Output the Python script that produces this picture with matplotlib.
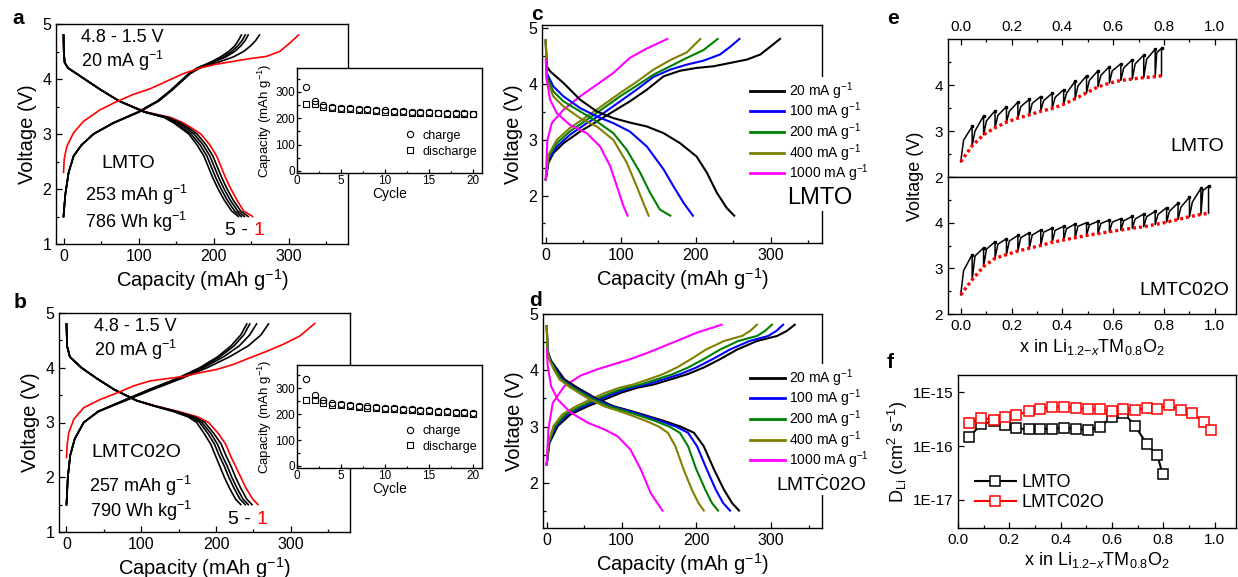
import matplotlib
matplotlib.use('Agg')
import matplotlib.pyplot as plt
from matplotlib.ticker import MultipleLocator, FixedLocator, NullLocator, FuncFormatter
from matplotlib.lines import Line2D
import numpy as np

plt.rcParams['font.family'] = ['Liberation Sans', 'DejaVu Sans']
plt.rcParams['mathtext.fontset'] = 'custom'
plt.rcParams['mathtext.rm'] = 'Liberation Sans'
plt.rcParams['mathtext.it'] = 'Liberation Sans:italic'
plt.rcParams['mathtext.bf'] = 'Liberation Sans:bold'
plt.rcParams['axes.linewidth'] = 1.0

# ---------------- Panel a (LMTO, cycles 1-5) ----------------
a_c1_chg_cap = [0, 1, 4.4, 13.3, 26.6, 48.8, 71, 93, 115, 137.5, 160, 182, 204, 226, 248, 270, 288, 302, 313]
a_c1_chg_V = [2.30, 2.55, 2.77, 3.02, 3.23, 3.44, 3.59, 3.72, 3.82, 3.96, 4.10, 4.20, 4.27, 4.32, 4.37, 4.41, 4.50, 4.66, 4.80]
a_chg_V = [1.5, 1.9, 2.3, 2.6, 2.8, 3.0, 3.2, 3.4, 3.6, 3.8, 4.0, 4.1, 4.2, 4.3, 4.4, 4.5, 4.6, 4.7, 4.8]
a_chg_cap = {
    2: [0, 2.4, 6.8, 13.5, 24, 40, 67, 101, 127, 145, 161, 169, 182, 205, 226, 240, 249, 256, 261],
    3: [0, 2.4, 6.8, 13.5, 24, 40, 66, 100, 126, 144, 160, 168, 180, 199, 216, 228, 236, 242, 246],
    4: [0, 2.4, 6.8, 13.5, 24, 40, 66, 100, 126, 144, 160, 168, 179, 197, 213, 224, 232, 238, 242],
    5: [0, 2.4, 6.8, 13.5, 24, 40, 66, 99, 125, 143, 159, 167, 178, 195, 209, 220, 228, 233, 237],
}
a_dis_V = [4.8, 4.5, 4.3, 4.2, 4.1, 4.0, 3.8, 3.6, 3.4, 3.3, 3.2, 3.1, 3.0, 2.8, 2.6, 2.4, 2.2, 2.0, 1.8, 1.6, 1.5]
a_dis_cap = {
    1: [0, 0.4, 1.5, 6, 17, 28, 50, 74, 110, 143, 160, 172, 183, 195, 204, 210, 216, 223, 231, 240, 252],
    2: [0, 0.4, 1.5, 6, 17, 28, 50, 74, 109, 140, 156, 168, 178, 190, 199, 205, 211, 218, 226, 236, 246],
    3: [0, 0.4, 1.5, 6, 17, 28, 50, 74, 108, 138, 153, 164, 174, 186, 195, 201, 207, 214, 222, 232, 241],
    4: [0, 0.4, 1.5, 6, 17, 28, 50, 74, 108, 136, 150, 160, 170, 182, 191, 197, 203, 210, 218, 228, 237],
    5: [0, 0.4, 1.5, 6, 17, 28, 50, 74, 107, 134, 147, 157, 167, 178, 187, 193, 199, 206, 214, 224, 233],
}
cycles = list(range(1, 21))
a_ins_chg = [317, 266, 250, 244, 240, 237, 235, 233, 231, 229, 227, 226, 225, 224, 222, 221, 220, 219, 218, 217]
a_ins_dis = [253, 252, 243, 239, 236, 233, 231, 229, 227, 225, 224, 223, 221, 220, 219, 218, 217, 216, 215, 214]

# ---------------- Panel b (LMTC02O, cycles 1-5) ----------------
b_c1_chg_cap = [0, 1, 3, 9.8, 23, 45, 67.6, 90, 112, 134, 156, 178.7, 201, 223, 245, 267.6, 290, 312, 325, 332]
b_c1_chg_V = [2.36, 2.6, 2.81, 3.06, 3.27, 3.42, 3.54, 3.67, 3.76, 3.80, 3.84, 3.91, 3.97, 4.06, 4.18, 4.30, 4.43, 4.58, 4.73, 4.81]
b_chg_V = [1.5, 2.0, 2.4, 2.7, 3.0, 3.2, 3.4, 3.6, 3.8, 4.0, 4.2, 4.4, 4.6, 4.8]
b_chg_cap = {
    2: [0, 1.8, 5, 11, 23, 43, 79, 115, 153, 188, 218, 243, 260, 270],
    3: [0, 1.8, 5, 11, 23, 42, 77, 112, 150, 183, 210, 231, 245, 254],
    4: [0, 1.8, 5, 11, 23, 42, 76, 111, 148, 180, 205, 224, 237, 245],
    5: [0, 1.8, 5, 11, 23, 42, 76, 110, 147, 178, 202, 220, 233, 241],
}
b_dis_V = [4.8, 4.4, 4.2, 4.0, 3.8, 3.6, 3.4, 3.3, 3.2, 3.1, 3.0, 2.8, 2.6, 2.4, 2.2, 2.0, 1.8, 1.6, 1.5]
b_dis_cap = {
    1: [0, 0.7, 4.5, 20, 41, 64, 94, 120, 150, 176, 190, 203, 213, 219, 226, 233, 240, 249, 256],
    2: [0, 0.7, 4.5, 20, 41, 64, 94, 119, 148, 172, 185, 197, 207, 213, 220, 226, 233, 241, 248],
    3: [0, 0.7, 4.5, 20, 41, 64, 94, 118, 146, 169, 181, 193, 202, 208, 215, 221, 228, 236, 243],
    4: [0, 0.7, 4.5, 20, 41, 64, 94, 118, 145, 166, 178, 189, 198, 204, 211, 217, 224, 232, 239],
    5: [0, 0.7, 4.5, 20, 41, 64, 93, 117, 143, 163, 174, 184, 193, 199, 205, 211, 218, 226, 233],
}
b_ins_chg = [334, 276, 253, 245, 240, 236, 233, 230, 228, 225, 223, 221, 219, 217, 215, 213, 211, 209, 208, 206]
b_ins_dis = [256, 253, 243, 237, 234, 230, 228, 225, 223, 221, 219, 217, 215, 213, 211, 209, 207, 205, 204, 202]

# ---------------- Panel c (LMTO rate) ----------------
rates = ['20 mA g$^{-1}$', '100 mA g$^{-1}$', '200 mA g$^{-1}$', '400 mA g$^{-1}$', '1000 mA g$^{-1}$']
rate_colors = ['#000000', '#0000FF', '#008000', '#808000', '#FF00FF']
c_chg = [
    ([0, 3.6, 10, 23.6, 45.8, 68, 90, 112, 134.7, 157, 179, 201, 223.6, 245.8, 268, 285.8, 299, 312],
     [2.29, 2.59, 2.76, 2.94, 3.15, 3.33, 3.51, 3.69, 3.90, 4.14, 4.24, 4.29, 4.32, 4.38, 4.44, 4.53, 4.67, 4.81]),
    ([0, 3.6, 14.7, 32, 54.7, 77, 99, 121, 143.5, 165.8, 188, 210, 232, 245.8, 258],
     [2.29, 2.64, 2.88, 3.09, 3.30, 3.48, 3.69, 3.90, 4.13, 4.26, 4.35, 4.42, 4.53, 4.67, 4.81]),
    ([0, 3.6, 14.7, 32, 54.7, 77, 99, 121, 143.5, 165.8, 188, 210, 229],
     [2.29, 2.70, 2.94, 3.15, 3.36, 3.57, 3.78, 3.97, 4.17, 4.32, 4.47, 4.61, 4.81]),
    ([0, 3.6, 14.7, 32, 54.7, 77, 99, 121, 143.5, 165.8, 188, 206],
     [2.29, 2.73, 3.0, 3.21, 3.42, 3.63, 3.84, 4.04, 4.26, 4.43, 4.57, 4.81]),
    ([0, 2.2, 8, 23.6, 45.8, 68, 90, 112, 134.7, 162],
     [2.29, 3.0, 3.30, 3.54, 3.78, 3.99, 4.20, 4.47, 4.64, 4.81]),
]
c_dis = [
    ([0, 1.3, 5.8, 23.6, 45.8, 68, 90, 112, 134.7, 157, 179, 201, 214.7, 228, 241, 251],
     [4.76, 4.32, 4.23, 4.02, 3.72, 3.51, 3.39, 3.31, 3.24, 3.12, 2.94, 2.70, 2.41, 2.05, 1.78, 1.64]),
    ([0, 1.3, 10, 23.6, 45.8, 68, 90, 112, 134.7, 157, 170, 183.6, 196],
     [4.79, 4.2, 3.96, 3.78, 3.57, 3.42, 3.30, 3.15, 2.88, 2.47, 2.17, 1.87, 1.64]),
    ([0, 1.3, 10, 23.6, 45.8, 68, 90, 108, 125.8, 139, 152, 166],
     [4.79, 4.14, 3.87, 3.69, 3.51, 3.33, 3.12, 2.82, 2.41, 2.05, 1.75, 1.64]),
    ([0, 1.3, 10, 23.6, 45.8, 68, 90, 108, 121, 130, 137],
     [4.79, 4.08, 3.78, 3.60, 3.39, 3.24, 3.0, 2.59, 2.17, 1.87, 1.64]),
    ([0, 1.3, 5.8, 14.7, 32, 54.7, 72.4, 85.8, 94.7, 103.6, 109],
     [4.44, 4.08, 3.72, 3.48, 3.27, 3.12, 2.88, 2.53, 2.17, 1.81, 1.64]),
]

# ---------------- Panel d (LMTC02O rate) ----------------
d_chg_V = [2.33, 2.71, 3.01, 3.22, 3.36, 3.48, 3.60, 3.69, 3.75, 3.84, 3.93, 4.05, 4.20, 4.37, 4.52, 4.61, 4.70, 4.81]
d_chg_cap = [
    [0, 3.6, 14.7, 32, 54.7, 77, 99, 121, 143.5, 165.8, 188, 210, 232, 254.7, 281, 308, 321, 331.6],
    [0, 3.0, 12.5, 28, 49, 70, 92, 113, 134, 156, 178, 200, 222, 245, 271, 296, 307, 316],
    [0, 2.5, 11, 25, 45, 65, 86, 106, 126, 147, 168, 189, 210, 232, 256, 281, 292, 301],
    [0, 2.0, 9, 21, 39, 58, 78, 97, 116, 136, 155, 174, 193, 213, 237, 261, 272, 281],
]
d_pink_chg_cap = [0, 2.2, 8, 23.6, 45.8, 68, 90, 112, 134.7, 157, 179, 201, 233.8]
d_pink_chg_V = [2.33, 2.95, 3.42, 3.72, 3.91, 4.02, 4.11, 4.20, 4.31, 4.43, 4.55, 4.67, 4.81]
d_dis_V = [4.78, 4.34, 4.17, 4.0, 3.84, 3.7, 3.5, 3.36, 3.28, 3.19, 3.10, 3.0, 2.89, 2.65, 2.24, 1.88, 1.64, 1.51]
d_dis_cap = [
    [0, 1.3, 5.8, 15, 23.6, 40, 66, 90, 112, 134.7, 157, 179, 196.9, 210, 223.6, 236.9, 248, 257],
    [0, 1.2, 5, 13, 21, 36, 63, 87, 109, 131, 152, 173, 189, 201, 214, 226, 236, 245],
    [0, 1.1, 4.5, 12, 19, 34, 60, 83, 104, 125, 145, 164, 178, 189, 200, 212, 221, 229],
    [0, 1, 4, 10, 17, 31, 55, 77, 96, 115, 133, 150, 162, 172, 183, 194, 203, 210],
]
d_pink_dis_cap = [0, 1.3, 5.8, 14.7, 32, 54.7, 77, 94.7, 112, 125.8, 139, 154.7]
d_pink_dis_V = [4.37, 4.08, 3.72, 3.48, 3.25, 3.07, 2.95, 2.83, 2.59, 2.24, 1.82, 1.51]

# ---------------- Panel e (GITT) ----------------
e1_x = [0, 0.045, 0.09, 0.135, 0.18, 0.225, 0.27, 0.315, 0.36, 0.405, 0.45, 0.495, 0.54, 0.585,
        0.63, 0.675, 0.72, 0.765, 0.79]
e1_relax = [2.33, 2.68, 2.92, 3.07, 3.19, 3.28, 3.35, 3.43, 3.49, 3.58, 3.70, 3.83, 3.96, 4.04,
            4.10, 4.13, 4.16, 4.18, 4.20]
e1_mid = [2.80, 3.00, 3.22, 3.34, 3.43, 3.53, 3.60, 3.66, 3.73, 3.82, 3.98, 4.10, 4.21, 4.31,
          4.37, 4.46, 4.56, 4.70]
e1_peak = [3.10, 3.33, 3.44, 3.53, 3.63, 3.69, 3.75, 3.82, 3.90, 4.08, 4.20, 4.31, 4.40, 4.46,
           4.55, 4.65, 4.78, 4.80]
e2_x = [0, 0.045, 0.09, 0.135, 0.18, 0.225, 0.27, 0.315, 0.36, 0.405, 0.45, 0.495, 0.54, 0.585,
        0.63, 0.675, 0.72, 0.765, 0.81, 0.855, 0.9, 0.945, 0.975]
e2_relax = [2.42, 2.75, 3.04, 3.22, 3.30, 3.38, 3.44, 3.50, 3.57, 3.62, 3.67, 3.72, 3.76, 3.80,
            3.84, 3.88, 3.91, 3.96, 4.01, 4.07, 4.13, 4.18, 4.21]
e2_mid = [2.95, 3.27, 3.42, 3.53, 3.60, 3.67, 3.73, 3.79, 3.83, 3.87, 3.92, 3.95, 3.98, 4.01,
          4.04, 4.08, 4.13, 4.18, 4.25, 4.34, 4.45, 4.70]
e2_peak = [3.30, 3.45, 3.58, 3.65, 3.72, 3.78, 3.84, 3.88, 3.92, 3.97, 4.00, 4.03, 4.06, 4.09,
           4.14, 4.19, 4.25, 4.33, 4.43, 4.56, 4.75, 4.80]

# ---------------- Panel f (diffusion) ----------------
f_lmto_x = [0.043, 0.091, 0.140, 0.183, 0.227, 0.277, 0.321, 0.368, 0.412, 0.458, 0.505, 0.552,
            0.598, 0.643, 0.690, 0.735, 0.777, 0.797]
f_lmto_D = [1.47e-16, 2.55e-16, 2.9e-16, 2.5e-16, 2.15e-16, 2.05e-16, 2.1e-16, 2.1e-16, 2.2e-16,
            2.1e-16, 1.98e-16, 2.25e-16, 3.45e-16, 4.2e-16, 2.4e-16, 1.09e-16, 6.7e-17, 3.0e-17]
f_lmtc_x = [0.043, 0.091, 0.140, 0.183, 0.227, 0.277, 0.321, 0.368, 0.412, 0.458, 0.505, 0.552,
            0.598, 0.643, 0.690, 0.735, 0.777, 0.822, 0.868, 0.913, 0.957, 0.986]
f_lmtc_D = [2.67e-16, 3.34e-16, 3.08e-16, 3.45e-16, 3.73e-16, 4.5e-16, 4.9e-16, 5.35e-16, 5.3e-16,
            5.2e-16, 4.85e-16, 4.8e-16, 4.5e-16, 4.8e-16, 4.65e-16, 5.2e-16, 5.0e-16, 5.7e-16,
            4.7e-16, 4.1e-16, 2.77e-16, 2.0e-16]

W, H = 1238, 577
fig = plt.figure(figsize=(W / 100, H / 100), dpi=100)


def box(l, r, t, b):
    return [l / W, 1 - b / H, (r - l) / W, (b - t) / H]


def style(ax, size=11, maj=4, mnr=2.5):
    ax.tick_params(which='both', direction='in', labelsize=size, width=0.9)
    ax.tick_params(which='major', length=maj)
    ax.tick_params(which='minor', length=mnr)


def cap_axes(ax, xlim, ylim, yticks):
    ax.set_xlim(*xlim)
    ax.set_ylim(*ylim)
    ax.xaxis.set_major_locator(FixedLocator([0, 100, 200, 300]))
    ax.xaxis.set_minor_locator(FixedLocator([50, 150, 250, 350]))
    ax.yaxis.set_major_locator(FixedLocator(yticks))
    ax.yaxis.set_minor_locator(MultipleLocator(0.5))
    style(ax, 11.5)
    ax.set_xlabel('Capacity (mAh g$^{-1}$)', fontsize=14.5, labelpad=2)
    ax.set_ylabel('Voltage (V)', fontsize=14.5, labelpad=4)


def inset(rect, chg, dis):
    axi = fig.add_axes(rect)
    axi.plot(cycles, chg, 'o', mfc='none', mec='k', ms=4.5, mew=0.8, zorder=3)
    axi.plot(cycles, dis, 's', mfc='none', mec='k', ms=4.5, mew=0.8, zorder=3)
    axi.set_xlim(0, 21)
    axi.set_ylim(-8, 390)
    axi.xaxis.set_major_locator(FixedLocator([0, 5, 10, 15, 20]))
    axi.xaxis.set_minor_locator(MultipleLocator(2.5))
    axi.yaxis.set_major_locator(FixedLocator([0, 100, 200, 300]))
    axi.yaxis.set_minor_locator(MultipleLocator(50))
    style(axi, 8.5, 3, 1.8)
    axi.tick_params(pad=1.5)
    axi.set_xlabel('Cycle', fontsize=10, labelpad=0)
    axi.set_ylabel('Capacity (mAh g$^{-1}$)', fontsize=9.5, labelpad=1)
    h = [Line2D([], [], ls='none', marker='o', mfc='none', mec='k', ms=4.5, mew=0.8),
         Line2D([], [], ls='none', marker='s', mfc='none', mec='k', ms=4.5, mew=0.8)]
    axi.legend(h, ['charge', 'discharge'], loc='lower right', bbox_to_anchor=(1.0, 0.1),
               frameon=False, fontsize=9, handlelength=1.0, handletextpad=0.5,
               labelspacing=0.3, borderpad=0.2, borderaxespad=0.2)
    return axi


# ---- a ----
axa = fig.add_axes(box(56, 348, 24, 244))
for c in [2, 3, 4, 5]:
    axa.plot(a_chg_cap[c], a_chg_V, color='k', lw=1.2)
axa.plot(a_dis_cap[1], a_dis_V, color='red', lw=1.2)
for c in [2, 3, 4, 5]:
    axa.plot(a_dis_cap[c], a_dis_V, color='k', lw=1.2)
axa.plot(a_c1_chg_cap, a_c1_chg_V, color='red', lw=1.2)
cap_axes(axa, (-10, 379), (1, 5), [1, 2, 3, 4, 5])
axa.text(79, 4.75, '4.8 - 1.5 V', fontsize=13, ha='center', va='center')
axa.text(79, 4.32, '20 mA g$^{-1}$', fontsize=13, ha='center', va='center')
axa.text(86, 2.47, 'LMTO', fontsize=14, ha='center', va='center')
axa.text(97, 1.9, '253 mAh g$^{-1}$', fontsize=13, ha='center', va='center')
axa.text(97, 1.41, '786 Wh kg$^{-1}$', fontsize=13, ha='center', va='center')
axa.text(253, 1.24, '5 - ', fontsize=14, ha='right', va='center')
axa.text(253, 1.24, '1', fontsize=14, ha='left', va='center', color='red')
inset(box(297, 482, 68, 173), a_ins_chg, a_ins_dis)

# ---- b ----
axb = fig.add_axes(box(59, 350, 313, 532))
for c in [2, 3, 4, 5]:
    axb.plot(b_chg_cap[c], b_chg_V, color='k', lw=1.2)
axb.plot(b_dis_cap[1], b_dis_V, color='red', lw=1.2)
for c in [2, 3, 4, 5]:
    axb.plot(b_dis_cap[c], b_dis_V, color='k', lw=1.2)
axb.plot(b_c1_chg_cap, b_c1_chg_V, color='red', lw=1.2)
cap_axes(axb, (-10, 379), (1, 5), [1, 2, 3, 4, 5])
axb.text(92, 4.75, '4.8 - 1.5 V', fontsize=13, ha='center', va='center')
axb.text(92, 4.32, '20 mA g$^{-1}$', fontsize=13, ha='center', va='center')
axb.text(94, 2.45, 'LMTC02O', fontsize=14, ha='center', va='center')
axb.text(99, 1.84, '257 mAh g$^{-1}$', fontsize=13, ha='center', va='center')
axb.text(99, 1.39, '790 Wh kg$^{-1}$', fontsize=13, ha='center', va='center')
axb.text(254, 1.22, '5 - ', fontsize=14, ha='right', va='center')
axb.text(254, 1.22, '1', fontsize=14, ha='left', va='center', color='red')
inset(box(297, 482, 365, 468), b_ins_chg, b_ins_dis)


def rate_legend(ax, x0, y0):
    h = [Line2D([], [], color=c, lw=2) for c in rate_colors]
    leg = ax.legend(h, rates, loc='upper left', bbox_to_anchor=(x0, y0), fontsize=10,
                    frameon=True, framealpha=1, handlelength=2.5, handletextpad=0.3,
                    labelspacing=-0.07, borderpad=0.2, borderaxespad=0)
    leg.get_frame().set_facecolor('white')
    leg.get_frame().set_edgecolor('none')
    leg.set_zorder(10)


# ---- c ----
axc = fig.add_axes(box(542, 822, 25, 243))
for (cx, cy), col in zip(c_chg, rate_colors):
    axc.plot(cx, cy, color=col, lw=1.5)
for (cx, cy), col in zip(c_dis, rate_colors):
    axc.plot(cx, cy, color=col, lw=1.5)
cap_axes(axc, (-5, 368), (1.15, 5.06), [2, 3, 4, 5])
rate_legend(axc, 0.732, 0.76)
axc.text(0.993, 0.206, 'LMTO', transform=axc.transAxes, fontsize=17, ha='center', va='center',
         bbox=dict(fc='white', ec='none', pad=1), zorder=10)

# ---- d ----
axd = fig.add_axes(box(543, 822, 314, 528))
for caps, col in zip(d_chg_cap, rate_colors[:4]):
    axd.plot(caps, d_chg_V, color=col, lw=1.5)
axd.plot(d_pink_chg_cap, d_pink_chg_V, color=rate_colors[4], lw=1.5)
for caps, col in zip(d_dis_cap, rate_colors[:4]):
    axd.plot(caps, d_dis_V, color=col, lw=1.5)
axd.plot(d_pink_dis_cap, d_pink_dis_V, color=rate_colors[4], lw=1.5)
cap_axes(axd, (-5, 368), (1.2, 5.0), [2, 3, 4, 5])
rate_legend(axd, 0.732, 0.765)
axd.text(0.996, 0.20, 'LMTC02O', transform=axd.transAxes, fontsize=14, ha='center', va='center',
         bbox=dict(fc='white', ec='none', pad=1), zorder=10)


# ---- e ----
def gitt(ax, xb, relax, mid, peak):
    xs, ys = [], []
    for k in range(len(peak)):
        x0, x1 = xb[k], xb[k + 1]
        xs += [x0, x0 + 0.25 * (x1 - x0), x1, x1]
        ys += [relax[k], mid[k], peak[k], relax[k + 1]]
    ax.plot(xs, ys, color='k', lw=1.1)
    ax.plot(xb[1:], peak, 's', color='k', ms=1.8)
    ax.plot(xb, relax, color='red', lw=2.4, ls=(0, (0.9, 0.9)))


axe1 = fig.add_axes(box(948, 1236, 39, 177))
axe2 = fig.add_axes(box(948, 1236, 177, 314))
gitt(axe1, e1_x, e1_relax, e1_mid, e1_peak)
gitt(axe2, e2_x, e2_relax, e2_mid, e2_peak)
for ax in (axe1, axe2):
    ax.set_xlim(-0.05, 1.083)
    ax.set_ylim(2, 5)
    ax.yaxis.set_major_locator(FixedLocator([2, 3, 4]))
    ax.yaxis.set_minor_locator(FixedLocator([2.5, 3.5, 4.5]))
    ax.xaxis.set_major_locator(MultipleLocator(0.2))
    ax.xaxis.set_minor_locator(MultipleLocator(0.1))
    ax.xaxis.set_major_formatter(FuncFormatter(lambda v, p: '%.1f' % v))
    style(ax, 11)
axe1.tick_params(axis='x', which='both', top=True, bottom=False, labeltop=True, labelbottom=False)
axe2.tick_params(axis='x', which='both', top=False, bottom=True)
axe1.text(0.864, 0.22, 'LMTO', transform=axe1.transAxes, fontsize=14, ha='center', va='center')
axe2.text(0.82, 0.175, 'LMTC02O', transform=axe2.transAxes, fontsize=14, ha='center', va='center')
axe2.set_xlabel('x in Li$_{1.2\\mathrm{-}x}$TM$_{0.8}$O$_2$', fontsize=13, labelpad=3)
fig.text(915 / W, 1 - 176 / H, 'Voltage (V)', rotation=90, fontsize=13, ha='center', va='center')

# ---- f ----
axf = fig.add_axes(box(958, 1236, 375, 528))
axf.plot(f_lmto_x, f_lmto_D, '-s', color='k', mfc='white', mec='k', ms=6.5, mew=1.1, lw=1.5)
axf.plot(f_lmtc_x, f_lmtc_D, '-s', color='red', mfc='white', mec='red', ms=6.5, mew=1.1, lw=1.5)
axf.set_yscale('log')
axf.set_xlim(0, 1.083)
axf.set_ylim(3.0e-18, 2.1e-15)
axf.yaxis.set_major_locator(FixedLocator([1e-17, 1e-16, 1e-15]))
axf.yaxis.set_minor_locator(NullLocator())
axf.yaxis.set_major_formatter(FuncFormatter(lambda v, p: '1E%d' % round(np.log10(v))))
axf.xaxis.set_major_locator(MultipleLocator(0.2))
axf.xaxis.set_minor_locator(MultipleLocator(0.1))
axf.xaxis.set_major_formatter(FuncFormatter(lambda v, p: '%.1f' % v))
style(axf, 11)
axf.set_xlabel('x in Li$_{1.2\\mathrm{-}x}$TM$_{0.8}$O$_2$', fontsize=13, labelpad=2)
axf.set_ylabel('D$_{\\rm Li}$ (cm$^{2}$ s$^{-1}$)', fontsize=13, labelpad=2)
hf = [Line2D([], [], color='k', marker='s', mfc='white', mec='k', ms=6.5, mew=1.1, lw=1.5),
      Line2D([], [], color='red', marker='s', mfc='white', mec='red', ms=6.5, mew=1.1, lw=1.5)]
axf.legend(hf, ['LMTO', 'LMTC02O'], loc='lower left', bbox_to_anchor=(0.06, 0.11), frameon=False,
           fontsize=13, handlelength=2.3, handletextpad=0.3, labelspacing=0.15, borderpad=0,
           borderaxespad=0)

# ---- panel letters ----
for lab, (px, py) in zip('abcdef', [(18, 18), (20, 302), (537, 14), (536, 300), (893, 18), (890, 362)]):
    fig.text(px / W, 1 - py / H, lab, fontsize=15, fontweight='bold', ha='center', va='center')

fig.savefig('out.png', dpi=100)
